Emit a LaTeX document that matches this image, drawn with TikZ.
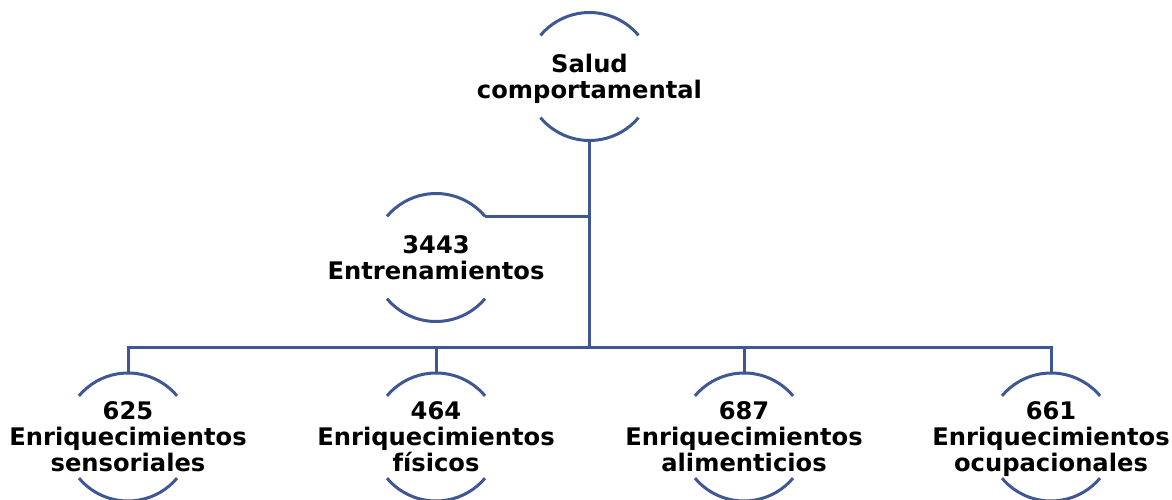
\documentclass[tikz,border=0pt]{standalone}
\usepackage{fontspec}
\setmainfont{DejaVu Sans}
\definecolor{ln}{RGB}{63,87,148}
\newcommand\halfrings[1]{%
  \draw[ring] ([shift={(40:64pt)}]#1) arc[start angle=40,end angle=140,radius=64pt];
  \draw[ring] ([shift={(220:64pt)}]#1) arc[start angle=220,end angle=320,radius=64pt];}
\begin{document}
\begin{tikzpicture}[x=1pt,y=-1pt,
  lbl/.style={font=\bfseries\fontsize{24.2}{26}\selectfont, align=center, inner sep=0pt, text=black},
  ring/.style={draw=ln, line width=3pt},
  conn/.style={draw=ln, line width=3pt}]
\useasboundingbox (0,0) rectangle (1172,500);
% circle centres
\coordinate (sC) at (589.5,76.5);
\coordinate (eC) at (436,257.5);
\coordinate (aC) at (128,437);
\coordinate (bC) at (436,437);
\coordinate (cC) at (744,437);
\coordinate (dC) at (1051,437);
% labels
\node[lbl] (s) at (sC) {Salud\\\smash{comportamental}};
\node[lbl] (e) at (eC) {3443\\\smash{Entrenamientos}};
\node[lbl] (a) at (aC) {625\\Enriquecimientos\\\smash{sensoriales}};
\node[lbl] (b) at (bC) {464\\Enriquecimientos\\\smash{físicos}};
\node[lbl] (c) at (cC) {687\\Enriquecimientos\\\smash{alimenticios}};
\node[lbl] (d) at (dC) {661\\Enriquecimientos\\\smash{ocupacionales}};
% rings
\halfrings{sC}
\halfrings{eC}
\halfrings{aC}
\halfrings{bC}
\halfrings{cC}
\halfrings{dC}
% connection points
\coordinate (sB) at ([yshift=-64pt]sC);
\coordinate (eR) at ([shift={(40:64pt)}]eC);
\coordinate (j1) at (sB |- eR);
\coordinate (j2) at (589.5,347.5);
\coordinate (busL) at (128,347.5);
\coordinate (busR) at (1051,347.5);
\coordinate (aT) at ([yshift=64pt]aC);
\coordinate (bT) at ([yshift=64pt]bC);
\coordinate (cT) at ([yshift=64pt]cC);
\coordinate (dT) at ([yshift=64pt]dC);
% connectors
\draw[conn] (sB) -- (j2);
\draw[conn] (eR) -- (j1);
\draw[conn] ([xshift=-1.5pt]busL) -- ([xshift=1.5pt]busR);
\draw[conn] (busL) -- (aT);
\draw[conn] (bT |- busL) -- (bT);
\draw[conn] (cT |- busL) -- (cT);
\draw[conn] (busR) -- (dT);
\end{tikzpicture}
\end{document}
